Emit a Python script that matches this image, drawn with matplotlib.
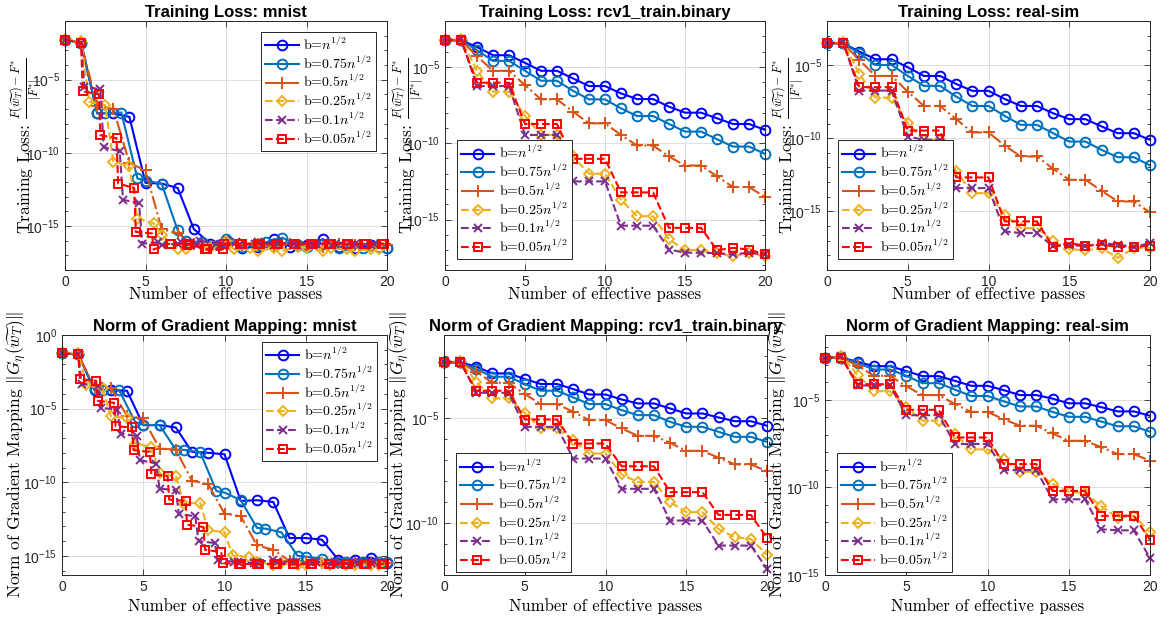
import numpy as np
import matplotlib
matplotlib.use('Agg')
import matplotlib.pyplot as plt
from matplotlib.ticker import FixedLocator, NullFormatter, LogFormatterSciNotation

plt.rcParams['font.family'] = ['Liberation Sans', 'DejaVu Sans']
plt.rcParams['mathtext.fontset'] = 'cm'

# ---- series styles (batch sizes) ----
labels = ['b=$n^{1/2}$', 'b=0.75$n^{1/2}$', 'b=0.5$n^{1/2}$',
          'b=0.25$n^{1/2}$', 'b=0.1$n^{1/2}$', 'b=0.05$n^{1/2}$']
colors = [(0, 0, 1), (0, 0.447, 0.741), (0.85, 0.325, 0.098),
          (0.929, 0.694, 0.125), (0.494, 0.184, 0.556), (1, 0, 0)]
styles = ['-', '-', '-.', '--', '--', '--']
markers = ['o', 'o', '+', 'D', 'x', 's']
msizes = [7, 7, 8, 5.5, 6, 6]

# ---- x grids (effective passes) ----
x_int = list(range(21))
x_mn_075 = [0, 1, 2, 2.5, 3.5, 4.5, 5, 6, 7, 7.5, 8.5, 9.5, 10, 11, 12, 12.5, 13.5,
            14.5, 15, 16, 17, 17.5, 18.5, 19.5, 20]
x_mn_025 = [0, 1, 1.5, 2.5, 3, 4, 4.5, 5.5, 6, 7, 7.5, 8.5, 9, 10, 10.5, 11.5, 12, 13,
            13.5, 14.5, 15, 16, 16.5, 17.5, 18, 19, 19.5]
x_mn_010 = [0, 1, 1.2, 2.2, 2.4, 3.4, 3.6, 4.6, 4.8, 5.8, 6.0, 7.0, 7.2, 8.2, 8.4, 9.4,
            9.6, 10.6, 10.8, 11.8, 12.0, 13.0, 13.2, 14.2, 14.4, 15.4, 15.6, 16.6, 16.8,
            17.8, 18.0, 19.0, 19.2]
x_mn_005 = [0, 1, 1.1, 2.1, 2.2, 3.2, 3.3, 4.3, 4.4, 5.4, 5.5, 6.5, 6.6, 7.6, 7.7, 8.7,
            8.8, 9.8, 9.9, 10.9, 11.0, 12.0, 12.1, 13.1, 13.2, 14.2, 14.3, 15.3, 15.4,
            16.4, 16.5, 17.5, 17.6, 18.6, 18.7, 19.7, 19.8]
x_mnist = [x_int, x_mn_075, x_int, x_mn_025, x_mn_010, x_mn_005]
x_other = [x_int] * 6

# ---- values, stored as log10 ----
# training loss: mnist
loss_mnist_100 = [-2.27, -2.5, -7.3, -7.3, -7.55, -12.05, -12.1, -12.4, -15.2, -16.2, -16.0,
                  -16.5, -16.4, -15.9, -16.4, -16.3, -15.9, -16.4, -16.5, -16.3, -16.5]
loss_mnist_075 = [-2.27, -2.5, -7.3, -7.28, -7.25, -11.75, -11.9, -12.1, -15.3, -16.0, -16.1,
                  -16.3, -15.9, -16.4, -16.3, -16.1, -15.8, -16.3, -16.4, -16.2, -16.5,
                  -16.3, -16.5, -16.4, -16.5]
loss_mnist_050 = [-2.27, -2.5, -6.8, -7.0, -10.7, -11.2, -15.2, -15.5, -16.2, -16.4, -16.2,
                  -16.3, -16.2, -16.4, -16.2, -16.3, -16.4, -16.2, -16.3, -16.3, -16.3]
loss_mnist_025 = [-2.2, -2.35, -6.5, -6.75, -10.6, -10.9, -14.5, -14.8, -15.6, -16.6, -16.6,
                  -16.3, -16.5, -16.0, -16.6, -16.5, -16.7, -16.5, -16.7, -16.4, -16.5,
                  -16.7, -16.5, -16.6, -16.7, -16.6, -16.6]
loss_mnist_010 = [-2.27, -2.5, -5.5, -5.65, -9.6, -9.9, -13.2, -13.45, -16.2, -16.1, -16.3,
                  -16.2, -16.1, -16.3, -16.0, -16.2, -16.3, -16.1, -16.3, -16.2, -16.1,
                  -16.3, -16.2, -16.2, -16.3, -16.2, -16.2, -16.3, -16.2, -16.3, -16.2,
                  -16.3, -16.2]
loss_mnist_005 = [-2.27, -2.5, -5.8, -6.0, -8.8, -9.0, -12.1, -12.4, -15.4, -15.5, -16.6,
                  -16.2, -16.2, -16.3, -16.2, -16.6, -16.6, -16.6, -16.2, -16.2, -16.2,
                  -16.2, -16.2, -16.2, -16.2, -16.2, -16.2, -16.2, -16.2, -16.2, -16.2,
                  -16.2, -16.2, -16.2, -16.2, -16.2, -16.2]

# training loss: rcv1_train.binary
loss_rcv1_100 = [-3.26, -3.26, -3.70, -4.24, -4.24, -4.74, -5.26, -5.26, -5.76, -6.26, -6.26,
                 -6.74, -7.11, -7.11, -7.61, -8.0, -8.0, -8.37, -8.74, -8.74, -9.13]
loss_rcv1_075 = [-3.26, -3.26, -3.91, -4.61, -4.61, -5.26, -5.91, -5.91, -6.57, -7.13, -7.13,
                 -7.72, -8.22, -8.22, -8.74, -9.24, -9.24, -9.74, -10.22, -10.22, -10.70]
loss_rcv1_050 = [-3.26, -3.26, -4.30, -5.26, -5.26, -6.20, -7.13, -7.13, -7.93, -8.70, -8.70,
                 -9.46, -10.15, -10.15, -10.87, -11.46, -11.46, -12.17, -12.87, -12.87, -13.52]
loss_rcv1_025 = [-3.26, -3.15, -5.26, -6.63, -6.63, -8.22, -9.46, -9.46, -10.87, -12.0, -12.0,
                 -13.7, -14.78, -14.78, -16.3, -17.0, -17.0, -17.2, -17.4, -17.17, -17.4]
loss_rcv1_010 = [-3.26, -3.15, -6.26, -6.26, -6.26, -9.46, -9.46, -9.46, -12.5, -12.5, -12.5,
                 -15.4, -15.4, -15.4, -16.96, -17.17, -17.17, -17.2, -17.28, -17.17, -17.28]
loss_rcv1_005 = [-3.26, -3.26, -6.04, -6.04, -6.04, -8.74, -8.74, -8.74, -11.02, -11.02, -11.02,
                 -13.22, -13.22, -13.22, -15.54, -15.54, -15.54, -17.0, -16.85, -16.96, -17.28]

# training loss: real-sim
loss_real_100 = [-3.52, -3.52, -4.09, -4.61, -4.61, -5.16, -5.75, -5.75, -6.30, -6.77, -6.77,
                 -7.32, -7.80, -7.80, -8.30, -8.70, -8.70, -9.20, -9.66, -9.66, -10.11]
loss_real_075 = [-3.52, -3.52, -4.2, -5.0, -5.0, -5.75, -6.43, -6.43, -7.16, -7.80, -7.80,
                 -8.48, -9.09, -9.09, -9.66, -10.23, -10.23, -10.80, -11.30, -11.30, -11.86]
loss_real_050 = [-3.52, -3.52, -4.66, -5.75, -5.75, -6.82, -7.80, -7.80, -8.70, -9.61, -9.61,
                 -10.5, -11.25, -11.25, -12.09, -12.84, -12.84, -13.59, -14.32, -14.32, -15.07]
loss_real_025 = [-3.52, -3.41, -5.61, -7.23, -7.23, -8.98, -10.11, -10.11, -12.27, -13.75, -13.75,
                 -15.23, -16.14, -16.14, -17.05, -17.57, -17.66, -17.5, -18.18, -17.5, -17.5]
loss_real_010 = [-3.52, -3.41, -6.75, -6.75, -6.75, -9.89, -10.11, -10.11, -13.41, -13.41, -13.41,
                 -16.36, -16.48, -16.48, -17.39, -17.27, -17.39, -17.16, -17.27, -17.43, -17.16]
loss_real_005 = [-3.52, -3.52, -6.52, -6.52, -6.52, -9.48, -9.48, -9.48, -12.68, -12.68, -12.68,
                 -15.68, -15.68, -15.68, -17.43, -17.16, -17.34, -17.27, -17.43, -17.43, -17.34]

# gradient mapping norm: mnist
grad_mnist_100 = [-1.25, -1.32, -3.74, -3.74, -3.79, -6.12, -6.12, -6.28, -7.94, -8.0, -8.1,
                  -11.27, -11.22, -11.34, -13.79, -13.79, -13.9, -15.26, -15.26, -15.12, -15.49]
grad_mnist_075 = [-1.25, -1.3, -3.7, -3.72, -3.72, -5.9, -6.1, -6.12, -7.78, -7.8, -7.95,
                  -10.6, -10.7, -11.22, -13.1, -13.15, -13.4, -15.0, -15.05, -15.2, -15.4,
                  -15.4, -15.4, -15.4, -15.4]
grad_mnist_050 = [-1.25, -1.3, -3.56, -3.6, -5.5, -5.67, -7.71, -7.78, -9.9, -10.14, -12.13,
                  -12.31, -14.29, -14.58, -15.35, -15.45, -15.5, -15.5, -15.5, -15.5, -15.5]
grad_mnist_025 = [-1.2, -1.2, -3.4, -3.63, -5.5, -5.67, -7.37, -7.6, -9.4, -9.57, -11.45,
                  -11.4, -13.27, -13.38, -14.97, -15.08, -15.4, -15.6, -15.5, -15.6, -15.6,
                  -15.5, -15.6, -15.6, -15.6, -15.6, -15.6]
grad_mnist_010 = [-1.25, -1.3, -3.3, -3.45, -4.95, -5.06, -6.69, -6.87, -8.5, -8.73, -10.43,
                  -10.54, -12.17, -12.3, -14.0, -14.13, -15.3, -15.4, -15.4, -15.5, -15.4,
                  -15.3, -15.4, -15.4, -15.4, -15.5, -15.4, -15.5, -15.4, -15.5, -15.4,
                  -15.5, -15.4]
grad_mnist_005 = [-1.25, -1.3, -3.0, -3.1, -4.47, -4.6, -6.2, -6.28, -7.82, -7.94, -9.46,
                  -9.59, -11.18, -11.27, -12.88, -13.04, -14.58, -14.75, -15.5, -15.55, -15.55,
                  -15.55, -15.55, -15.55, -15.55, -15.55, -15.55, -15.55, -15.55, -15.55,
                  -15.55, -15.55, -15.55, -15.55, -15.55, -15.55, -15.55]

# gradient mapping norm: rcv1_train.binary
grad_rcv1_100 = [-2.31, -2.31, -2.52, -2.84, -2.84, -3.11, -3.35, -3.35, -3.59, -3.85, -3.85,
                 -4.09, -4.28, -4.28, -4.52, -4.76, -4.76, -4.95, -5.13, -5.13, -5.35]
grad_rcv1_075 = [-2.31, -2.31, -2.64, -3.0, -3.0, -3.35, -3.67, -3.67, -3.99, -4.31, -4.31,
                 -4.6, -4.84, -4.84, -5.16, -5.4, -5.4, -5.64, -5.88, -5.88, -6.12]
grad_rcv1_050 = [-2.31, -2.31, -2.76, -3.29, -3.29, -3.83, -4.31, -4.31, -4.68, -5.08, -5.08,
                 -5.48, -5.83, -5.83, -6.17, -6.55, -6.55, -6.88, -7.2, -7.2, -7.53]
grad_rcv1_025 = [-2.31, -2.23, -3.24, -4.04, -4.04, -4.73, -5.48, -5.48, -6.04, -6.68, -6.68,
                 -7.68, -8.04, -8.04, -9.0, -9.49, -9.49, -10.29, -10.69, -10.77, -11.52]
grad_rcv1_010 = [-2.31, -2.23, -3.77, -3.77, -3.77, -5.4, -5.4, -5.4, -6.92, -6.92, -6.92,
                 -8.37, -8.37, -8.37, -9.89, -9.89, -9.89, -11.09, -11.09, -11.09, -12.21]
grad_rcv1_005 = [-2.31, -2.31, -3.67, -3.67, -3.67, -5.05, -5.05, -5.05, -6.2, -6.2, -6.2,
                 -7.29, -7.29, -7.29, -8.53, -8.53, -8.53, -9.62, -9.62, -9.62, -10.72]

# gradient mapping norm: real-sim
grad_real_100 = [-2.59, -2.59, -2.83, -3.08, -3.08, -3.36, -3.65, -3.65, -3.92, -4.2, -4.2,
                 -4.45, -4.73, -4.73, -4.93, -5.2, -5.2, -5.42, -5.66, -5.66, -5.91]
grad_real_075 = [-2.59, -2.59, -2.9, -3.27, -3.27, -3.63, -4.05, -4.05, -4.42, -4.78, -4.78,
                 -5.09, -5.38, -5.38, -5.69, -5.97, -5.97, -6.24, -6.51, -6.51, -6.82]
grad_real_050 = [-2.59, -2.59, -3.05, -3.63, -3.63, -4.23, -4.73, -4.73, -5.24, -5.69, -5.69,
                 -6.11, -6.48, -6.48, -6.92, -7.34, -7.34, -7.7, -8.1, -8.1, -8.47]
grad_real_025 = [-2.59, -2.5, -3.56, -4.51, -4.51, -5.42, -6.19, -6.19, -6.97, -7.83, -7.83,
                 -8.38, -9.11, -9.11, -9.8, -10.26, -10.31, -11.08, -11.72, -11.62, -12.54]
grad_real_010 = [-2.59, -2.5, -4.18, -4.18, -4.18, -5.88, -5.88, -5.88, -7.52, -7.52, -7.52,
                 -9.01, -9.01, -9.01, -10.68, -10.68, -10.68, -12.39, -12.45, -12.45, -14.03]
grad_real_005 = [-2.59, -2.59, -4.11, -4.11, -4.11, -5.57, -5.57, -5.57, -7.15, -7.15, -7.15,
                 -8.67, -8.67, -8.67, -10.2, -10.2, -10.2, -11.62, -11.62, -11.62, -12.99]

titles = ['Training Loss: mnist', 'Training Loss: rcv1_train.binary', 'Training Loss: real-sim',
          'Norm of Gradient Mapping: mnist', 'Norm of Gradient Mapping: rcv1_train.binary',
          'Norm of Gradient Mapping: real-sim']
ylabel_loss = r'Training Loss: $\frac{F(\widetilde{w_T})-F^{*}}{|F^{*}|}$'
ylabel_grad = r'Norm of Gradient Mapping $\Vert G_\eta(\widetilde{w_T})\Vert$'
xlabel = 'Number of effective passes'

fig = plt.figure(figsize=(11.63, 6.26), dpi=100)
W, H = 1163.0, 626.0


def box(l, t, r, b):
    return [l / W, 1 - b / H, (r - l) / W, (b - t) / H]


panels = [
    (box(65, 21, 387, 270), x_mnist,
     [loss_mnist_100, loss_mnist_075, loss_mnist_050, loss_mnist_025, loss_mnist_010, loss_mnist_005],
     (-18, -1), 'upper right', (0.966, 0.956), ylabel_loss, -0.062),
    (box(445, 21, 765, 270), x_other,
     [loss_rcv1_100, loss_rcv1_075, loss_rcv1_050, loss_rcv1_025, loss_rcv1_010, loss_rcv1_005],
     (-18.3, -2), 'lower left', (0.037, 0.044), ylabel_loss, -0.056),
    (box(827, 21, 1150, 270), x_other,
     [loss_real_100, loss_real_075, loss_real_050, loss_real_025, loss_real_010, loss_real_005],
     (-19, -2), 'lower left', (0.034, 0.044), ylabel_loss, -0.062),
    (box(62, 335, 387, 575), x_mnist,
     [grad_mnist_100, grad_mnist_075, grad_mnist_050, grad_mnist_025, grad_mnist_010, grad_mnist_005],
     (-16.3, 0), 'upper right', (0.969, 0.971), ylabel_grad, -0.105),
    (box(444, 335, 767, 575), x_other,
     [grad_rcv1_100, grad_rcv1_075, grad_rcv1_050, grad_rcv1_025, grad_rcv1_010, grad_rcv1_005],
     (-12.5, -1), 'lower left', (0.037, 0.012), ylabel_grad, -0.102),
    (box(825, 335, 1150, 575), x_other,
     [grad_real_100, grad_real_075, grad_real_050, grad_real_025, grad_real_010, grad_real_005],
     (-15, -1.3), 'lower left', (0.037, 0.012), ylabel_grad, -0.108),
]

tc = '#262626'
for k, (pos, xs, ys, ylim, loc, anchor, ylab, ylx) in enumerate(panels):
    ax = fig.add_axes(pos)
    ax.set_yscale('log')
    for i in range(6):
        ax.plot(xs[i], np.power(10.0, ys[i]), linestyle=styles[i], color=colors[i],
                marker=markers[i], markersize=msizes[i], mfc='none', mew=1.4, lw=1.5,
                label=labels[i], clip_on=False)
    ax.set_xlim(0, 20)
    ax.set_ylim(10.0 ** ylim[0], 10.0 ** ylim[1])
    ax.set_xticks([0, 5, 10, 15, 20])
    ax.yaxis.set_major_locator(FixedLocator([1e0, 1e-5, 1e-10, 1e-15]))
    ax.yaxis.set_major_formatter(LogFormatterSciNotation())
    ax.yaxis.set_minor_locator(FixedLocator(10.0 ** np.arange(-20, 1)))
    ax.yaxis.set_minor_formatter(NullFormatter())
    ax.tick_params(which='both', direction='in', top=True, right=True, colors=tc,
                   labelsize=10, width=0.6)
    ax.tick_params(which='major', length=4)
    ax.tick_params(which='minor', length=2.5)
    ax.grid(True, which='major', color='#dedede', lw=0.7)
    ax.set_axisbelow(True)
    for s in ax.spines.values():
        s.set_color(tc)
        s.set_linewidth(0.7)
    ax.set_title(titles[k], fontsize=12, fontweight='bold', pad=3)
    ax.set_xlabel(xlabel, fontfamily='cmr10', fontsize=12)
    ax.xaxis.set_label_coords(0.5, -0.065 if k < 3 else -0.095)
    ax.set_ylabel(ylab, fontfamily='cmr10', fontsize=12.5)
    ax.yaxis.set_label_coords(ylx, 0.5)
    leg = ax.legend(loc=loc, bbox_to_anchor=anchor, borderaxespad=0,
                    prop={'family': 'cmr10', 'size': 10}, fancybox=False,
                    edgecolor=tc, framealpha=1, handlelength=2.4, handletextpad=0.35,
                    labelspacing=0.12, borderpad=0.3)
    leg.get_frame().set_linewidth(0.7)

fig.savefig('out.png', dpi=100)
